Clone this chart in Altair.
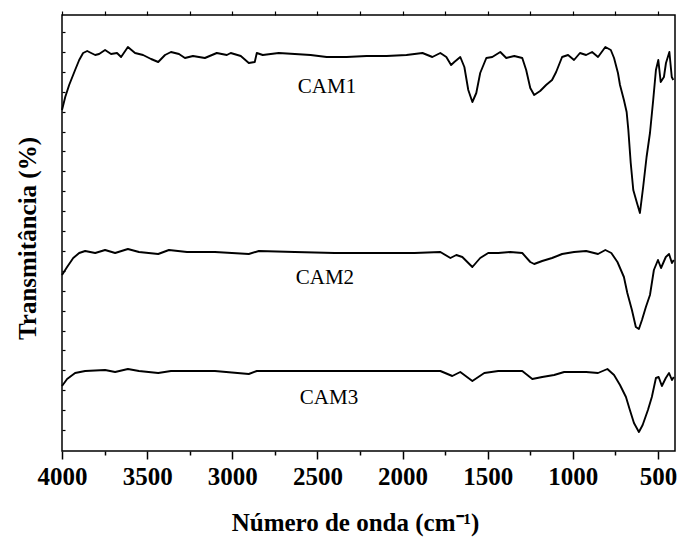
import altair as alt
import pandas as pd

# ---- data (wavenumber in cm-1, transmittance in arbitrary units) ----
cam1_wn = [4000, 3981, 3958, 3923, 3899, 3876, 3852, 3829, 3805, 3782, 3747, 3712, 3677, 3653,
           3613, 3571, 3524, 3477, 3435, 3395, 3360, 3313, 3278, 3231, 3161, 3091, 3032, 3009,
           2950, 2903, 2868, 2856, 2821, 2727, 2633, 2540, 2446, 2329, 2211, 2094, 1977, 1883,
           1825, 1778, 1743, 1715, 1696, 1661, 1637, 1614, 1590, 1567, 1544, 1508, 1473, 1426,
           1391, 1344, 1297, 1274, 1250, 1227, 1192, 1157, 1122, 1098, 1063, 1028, 993, 958,
           922, 887, 852, 809, 777, 758, 735, 723, 700, 684, 674, 660, 645, 625, 606, 587, 567,
           547, 528, 512, 498, 484, 465, 453, 433, 419, 410]
cam1_t = [341, 354, 366, 381, 391, 398, 400, 398, 396, 397, 401, 397, 398, 394,
          404, 398, 396, 392, 389, 396, 399, 397, 393, 395, 393, 398, 396, 398,
          395, 388, 389, 398, 396, 398, 397, 396, 394, 394, 395, 395, 396, 398,
          394, 398, 394, 386, 389, 394, 384, 361, 349, 358, 378, 393, 394, 399,
          393, 395, 393, 381, 363, 356, 360, 366, 371, 379, 394, 396, 391, 398,
          396, 399, 394, 404, 401, 393, 378, 366, 351, 339, 321, 288, 261, 249, 238, 264, 294,
          318, 351, 381, 391, 369, 374, 388, 399, 374, 371]

cam2_wn = [4000, 3970, 3934, 3899, 3864, 3805, 3747, 3688, 3613, 3548, 3435, 3372, 3266, 3102,
           2903, 2844, 2633, 2399, 2165, 1930, 1778, 1719, 1684, 1649, 1590, 1544, 1497, 1438,
           1368, 1297, 1250, 1227, 1180, 1122, 1063, 993, 922, 852, 809, 774, 738, 700, 680,
           653, 630, 612, 594, 571, 547, 524, 500, 482, 454, 435, 418, 407]
cam2_t = [176, 184, 193, 198, 200, 198, 201, 198, 202, 199, 197, 201, 199, 199,
          197, 200, 199, 198, 198, 198, 199, 193, 196, 194, 184, 193, 198, 198,
          199, 198, 189, 187, 190, 193, 197, 199, 200, 197, 201, 198, 189, 174, 158,
          141, 124, 122, 131, 144, 156, 181, 191, 183, 194, 197, 188, 191]

cam3_wn = [4000, 3970, 3923, 3864, 3747, 3688, 3613, 3548, 3435, 3360, 3102, 2903, 2856, 2633,
           2165, 1778, 1708, 1661, 1590, 1520, 1438, 1297, 1238, 1180, 1110, 1051, 922, 852,
           797, 758, 723, 688, 665, 641, 612, 590, 559, 536, 512, 496, 477, 454, 435, 418, 407]
cam3_t = [65, 72, 78, 80, 81, 79, 82, 80, 78, 80, 80, 77, 80, 80,
          80, 80, 75, 79, 70, 78, 80, 80, 72, 74, 76, 79, 79, 78,
          82, 76, 66, 54, 41, 28, 19, 26, 41, 54, 73, 74, 65, 73, 78, 71, 74]

label_names = ["CAM1", "CAM2", "CAM3"]
label_wn = [2444, 2456, 2432]
label_t = [364, 173, 53]

x_ticks = [4000, 3750, 3500, 3250, 3000, 2750, 2500, 2250, 2000, 1750, 1500, 1250, 1000, 750, 500]
y_ticks = [21 + 19.9 * k for k in range(21)]

rows = []
for name, wn, tt in [("CAM1", cam1_wn, cam1_t), ("CAM2", cam2_wn, cam2_t), ("CAM3", cam3_wn, cam3_t)]:
    for w, v in zip(wn, tt):
        rows.append({"serie": name, "wn": w, "t": v})
df = pd.DataFrame(rows)
labels_df = pd.DataFrame({"name": label_names, "wn": label_wn, "t": label_t})

FONT = "Liberation Serif"
x_scale = alt.Scale(domain=[400, 4000], reverse=True, nice=False, zero=False)
y_scale = alt.Scale(domain=[0, 436], nice=False, zero=False)

lines = alt.Chart(df).mark_line(color="black", strokeWidth=1.9, strokeJoin="round").encode(
    x=alt.X("wn:Q", scale=x_scale,
            axis=alt.Axis(orient="bottom", values=x_ticks, format="d",
                          labelExpr="datum.value % 500 === 0 ? datum.label : ''",
                          tickSize={"condition": {"test": "datum.value % 500 !== 0", "value": 4}, "value": 8},
                          tickColor="black", tickWidth=1.5, domain=False, grid=False,
                          labelFont=FONT, labelFontWeight="bold", labelFontSize=25, labelColor="black",
                          labelPadding=5, labelOverlap=False, labelFlush=False,
                          title="Número de onda (cm⁻¹)", titleFont=FONT, titleFontWeight="bold",
                          titleFontSize=25, titleColor="black", titleX=293, titleY=79,
                          titleBaseline="alphabetic", titleAnchor="middle", titleAlign="center")),
    y=alt.Y("t:Q", scale=y_scale,
            axis=alt.Axis(orient="left", labels=False, ticks=False, domain=False, grid=False,
                          title="Transmitância (%)", titleFont=FONT, titleFontWeight="bold",
                          titleFontSize=25, titleColor="black", titleAngle=-90, titleX=-27,
                          titleY=223, titleBaseline="alphabetic", titleAlign="center")),
    detail="serie:N",
)

texts = alt.Chart(labels_df).mark_text(font=FONT, fontSize=21, color="black",
                                       baseline="middle", align="center").encode(
    x=alt.X("wn:Q", scale=x_scale,
            axis=alt.Axis(orient="top", values=x_ticks, labels=False, tickSize=4, tickColor="black",
                          tickWidth=1.2, domain=False, grid=False, title=None)),
    y=alt.Y("t:Q", scale=y_scale,
            axis=alt.Axis(orient="right", offset=-613, values=y_ticks, labels=False, tickSize=3,
                          tickColor="black", tickWidth=1.2, domain=False, grid=False, title=None)),
    text="name:N",
)

chart = alt.layer(lines, texts).resolve_axis(x="independent", y="independent").properties(
    width=613, height=436,
    autosize=alt.AutoSizeParams(type="none"),
    padding={"left": 62, "top": 15, "right": 6, "bottom": 88},
    background="white",
).configure_view(stroke="black", strokeWidth=1.5)

chart.save("out.html", embed_options={"renderer": "svg", "actions": False})
